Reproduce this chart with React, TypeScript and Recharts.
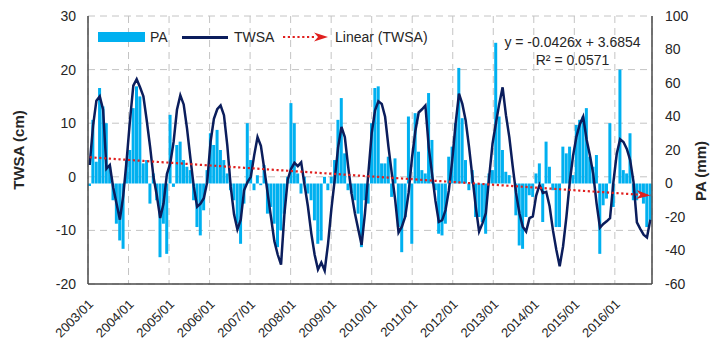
import { ComposedChart, Bar, Line, XAxis, YAxis, CartesianGrid } from "recharts";

const FONT = "'Liberation Sans', Arial, sans-serif";
const BAR_BLUE = "#00b0f0";
const NAVY = "#0b1d5c";
const RED = "#e0201f";
const BORDER = "#4a4a4a";
const TEXT = "#262626";

const YEARS = ["2003", "2004", "2005", "2006", "2007", "2008", "2009", "2010", "2011", "2012", "2013", "2014", "2015", "2016"];
const MONTHS = ["01", "02", "03", "04", "05", "06", "07", "08", "09", "10", "11", "12"];

// TWSA (cm), monthly, one row per year
const TWSA = [
  2.2, 9.5, 14.2, 15.0, 12.5, 1.5, 2.2, -2.0, -5.0, -8.0, -3.5, 3.0,
  10.5, 17.0, 18.2, 16.7, 15.0, 10.5, 5.6, 0.0, -3.5, -7.7, -5.0, 0.5,
  2.5, 6.5, 12.5, 15.2, 13.5, 9.0, 3.5, -1.8, -5.6, -5.0, -4.0, -1.0,
  6.5, 10.8, 12.6, 13.3, 11.5, 5.8, -1.8, -7.0, -9.8, -8.0, -2.5, -1.0,
  0.0, 4.0, 7.4, 5.8, 1.5, -3.0, -7.5, -12.0, -14.5, -16.4, -7.0, -0.5,
  1.5, 2.6, 2.0, 2.7, -1.5, -5.5, -10.5, -14.5, -17.3, -16.0, -17.5, -12.5,
  -6.0, -0.5, 5.5, 9.3, 7.4, 1.9, -3.1, -6.8, -9.8, -12.7, -6.8, 0.6,
  8.1, 12.4, 14.1, 13.6, 11.2, 5.6, 0.6, -4.3, -10.4, -9.3, -7.4, -3.0,
  3.5, 8.5, 12.0, 12.6, 13.3, 5.5, 0.5, -4.5, -8.4, -8.1, -6.2, -2.5,
  3.1, 9.9, 15.5, 13.6, 10.5, 5.6, 0.0, -5.6, -10.2, -8.7, -6.8, 0.0,
  6.2, 10.0, 13.6, 16.7, 11.5, 7.4, 2.0, -3.0, -6.8, -9.3, -10.2, -7.7,
  -7.4, -3.5, -1.5, -3.0, -2.8, -5.5, -10.0, -13.6, -16.7, -13.0, -7.5, -1.0,
  4.0, 7.5, 9.8, 11.2, 7.0, 4.0, 0.5, -5.0, -9.5, -8.8, -8.3, -7.7,
  -1.0, 4.3, 7.0, 6.5, 5.2, 3.1, -1.0, -8.5, -9.7, -10.8, -11.3, -8.0,
];

// PA (mm), monthly, one row per year
const PA = [
  -1.5, 38, 13, 57, 46, 36, 10, -10, -24, -34, -39, 14,
  20, 45, 58, 52, 12, 14, -12, 6, -10, -44, -24, -42,
  41, -2, 23, 25, 14, 10, 8, -10, -26, -31, -16, 8,
  30, 23, 32, 20, 14, 6, -4, -10, -24, -36, -12, 36,
  14, -4, 5, -1, 11, -18, -14, -24, -38, -28, -18, 4,
  48, 36, 6, -6, 4, -6, -10, -22, -36, -34, 4, -4,
  4, 14, 38, 51, 18, -4, -6, -10, -18, -38, -10, -12,
  36, 57, 58, 12, 12, 16, -8, 15, -26, -41, -20, 40,
  -36, 42, 19, 8, 6, 54, 26, -4, -30, -31, -24, 16,
  22, 36, 69, 39, 14, -4, 8, -20, -20, -23, -30, 6,
  8, 84, 40, 20, 7, 5, 0, -19, -37, -39, -20, -7,
  -8, 6, 12, -23, 25, 10, -4, -26, -26, 22, 18, 22,
  5, 35, 38, 40, 45, 16, 10, 17, -42, -13, -9, 36,
  -14, 0, 68, 8, 6, 30, -10, -10, -6, -12, -26, -22,
];

// Linear (TWSA): y = -0.0426x + 3.6854, x = month number from 1
const TREND_SLOPE = -0.0426;
const TREND_INTERCEPT = 3.6854;

const LEFT_TICKS = [-20, -10, 0, 10, 20, 30];
const RIGHT_TICKS = [-60, -40, -20, 0, 20, 40, 60, 80, 100];
const YEAR_TICKS = YEARS.map((_, i) => i * 12);
const N_MONTHS = YEARS.length * 12;

const data = YEARS.flatMap((year, yi) =>
  MONTHS.map((m, mi) => {
    const i = yi * 12 + mi;
    return {
      month: `${year}/${m}`,
      pa: PA[i],
      twsa: TWSA[i],
      trend: TREND_INTERCEPT + TREND_SLOPE * (i + 1),
    };
  })
);

const LAST = data.length - 1;

function YearTick(props: any) {
  const { x, y, payload } = props;
  const label = `${YEARS[Math.round(payload.value / 12)]}/01`;
  const tx = x + 6;
  const ty = y + 21;
  return (
    <text
      x={tx}
      y={ty}
      transform={`rotate(-45, ${tx}, ${ty})`}
      textAnchor="end"
      fontSize={13}
      fontFamily={FONT}
      fill={TEXT}
    >
      {label}
    </text>
  );
}

function TrendArrow(props: any) {
  const { cx, cy, index } = props;
  if (index !== LAST || cx == null || cy == null) return <g key={`t-${index}`} />;
  return (
    <polygon
      key="trend-arrow"
      points={`${cx},${cy} ${cx - 14},${cy - 4.5} ${cx - 10},${cy} ${cx - 14},${cy + 4.5}`}
      fill={RED}
      transform={`rotate(4, ${cx}, ${cy})`}
    />
  );
}

const tickStyle = { fontSize: 14, fill: TEXT, fontFamily: FONT };
const borderLine = { stroke: BORDER, strokeWidth: 1.5 };
const legendText: React.CSSProperties = {
  position: "absolute",
  top: 28,
  fontSize: 14,
  lineHeight: "18px",
  color: TEXT,
  whiteSpace: "nowrap",
};

export default function App() {
  return (
    <div
      style={{
        position: "relative",
        width: 713,
        height: 343,
        background: "#fff",
        fontFamily: FONT,
      }}
    >
      <style>{"body{margin:0}"}</style>
      <ComposedChart
        width={713}
        height={343}
        data={data}
        margin={{ top: 16, right: 0, left: 0, bottom: 0 }}
        barCategoryGap={0}
        barGap={0}
      >
        <XAxis
          xAxisId="yr"
          type="number"
          domain={[0, N_MONTHS]}
          allowDataOverflow
          ticks={YEAR_TICKS}
          interval={0}
          height={59}
          tickLine={false}
          tickSize={0}
          tickMargin={0}
          axisLine={borderLine}
          tick={<YearTick />}
        />
        <XAxis xAxisId="cat" dataKey="month" hide height={0} />
        <XAxis
          xAxisId="top"
          orientation="top"
          type="number"
          domain={[0, N_MONTHS]}
          allowDataOverflow
          height={0}
          tick={false}
          tickLine={false}
          axisLine={borderLine}
        />
        <YAxis
          yAxisId="left"
          domain={[-20, 30]}
          ticks={LEFT_TICKS}
          interval={0}
          allowDataOverflow
          width={88}
          tickLine={false}
          tickSize={0}
          tickMargin={12}
          axisLine={borderLine}
          tick={tickStyle}
        />
        <YAxis
          yAxisId="right"
          orientation="right"
          domain={[-60, 100]}
          ticks={RIGHT_TICKS}
          interval={0}
          allowDataOverflow
          width={61}
          tickLine={false}
          tickSize={0}
          tickMargin={13}
          axisLine={borderLine}
          tick={{ ...tickStyle, textAnchor: "start" }}
        />
        <CartesianGrid
          xAxisId="yr"
          yAxisId="left"
          stroke="#c4c4c4"
          strokeDasharray="7 5"
        />
        <Bar
          xAxisId="cat"
          yAxisId="right"
          dataKey="pa"
          fill={BAR_BLUE}
          isAnimationActive={false}
        />
        <Line
          xAxisId="cat"
          yAxisId="left"
          type="linear"
          dataKey="twsa"
          stroke={NAVY}
          strokeWidth={2.5}
          dot={false}
          activeDot={false}
          isAnimationActive={false}
        />
        <Line
          xAxisId="cat"
          yAxisId="left"
          type="linear"
          dataKey="trend"
          stroke={RED}
          strokeWidth={2.2}
          strokeDasharray="2.2 2.6"
          dot={<TrendArrow />}
          activeDot={false}
          isAnimationActive={false}
        />
      </ComposedChart>

      {/* legend */}
      <div style={{ position: "absolute", left: 98, top: 32, width: 47, height: 10, background: BAR_BLUE }} />
      <div style={{ ...legendText, left: 150 }}>PA</div>
      <div style={{ position: "absolute", left: 182, top: 35.5, width: 46, height: 3, background: NAVY }} />
      <div style={{ ...legendText, left: 234 }}>TWSA</div>
      <svg style={{ position: "absolute", left: 283, top: 30 }} width={46} height={14}>
        <line x1={0} y1={7} x2={32} y2={7} stroke={RED} strokeWidth={2.2} strokeDasharray="2.2 2.6" />
        <polygon points="45,7 31,2.5 35,7 31,11.5" fill={RED} />
      </svg>
      <div style={{ ...legendText, left: 335 }}>Linear (TWSA)</div>

      {/* trendline equation */}
      <div
        style={{
          position: "absolute",
          left: 500,
          top: 33,
          width: 145,
          textAlign: "center",
          fontSize: 14,
          lineHeight: "18px",
          color: TEXT,
          whiteSpace: "nowrap",
        }}
      >
        <div>y = -0.0426x + 3.6854</div>
        <div>R² = 0.0571</div>
      </div>

      {/* axis titles */}
      <div
        style={{
          position: "absolute",
          left: 18,
          top: 150,
          transform: "translate(-50%, -50%) rotate(-90deg)",
          fontSize: 15,
          fontWeight: "bold",
          color: TEXT,
          whiteSpace: "nowrap",
        }}
      >
        TWSA (cm)
      </div>
      <div
        style={{
          position: "absolute",
          left: 700,
          top: 171,
          transform: "translate(-50%, -50%) rotate(-90deg)",
          fontSize: 15,
          fontWeight: "bold",
          color: TEXT,
          whiteSpace: "nowrap",
        }}
      >
        PA (mm)
      </div>
    </div>
  );
}
